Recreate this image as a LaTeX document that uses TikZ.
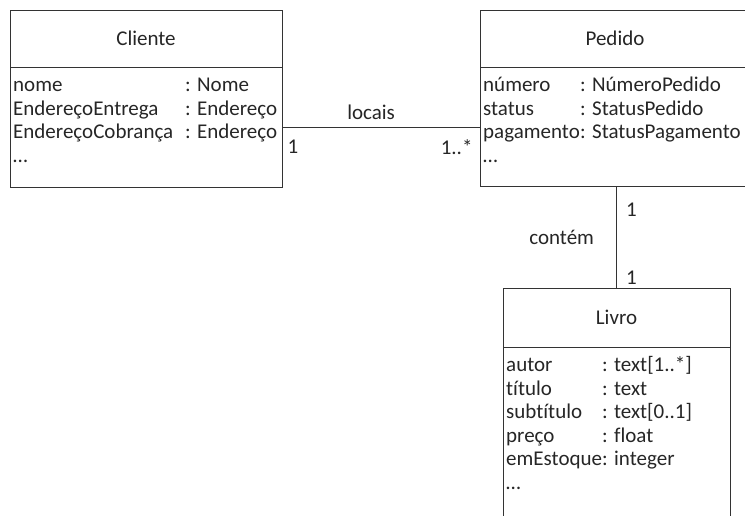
\documentclass[tikz,border=0pt]{standalone}
\usepackage{fontspec}
\setmainfont[Ligatures={NoCommon}]{Carlito}
\usetikzlibrary{positioning}
\begin{document}
\begin{tikzpicture}[x=1pt, y=-1pt,
    classhead/.style={draw=black!80, line width=1pt, outer sep=0pt, inner sep=0pt,
      minimum height=57pt, font=\fontsize{21}{24}\selectfont, text=black!85},
    classbody/.style={draw=black!80, line width=1pt, outer sep=0pt, inner sep=0pt},
    attrs/.style={anchor=north west, inner xsep=3pt, inner ysep=8pt,
      font=\fontsize{21}{23.5}\selectfont, text=black!85},
    assoc/.style={draw=black!80, line width=1pt},
    mult/.style={font=\fontsize{21}{24}\selectfont, text=black!85, inner sep=0pt}]
  \useasboundingbox (0,0) rectangle (745,515);
  \clip (0,0) rectangle (745,515);

  % Cliente
  \node[classhead, minimum width=272pt] (cliente) at (146,38.5) {Cliente};
  \node[classbody, minimum width=272pt, minimum height=120pt, below=0pt of cliente] (clientebody) {};
  \node[attrs] (clienteattrs) at (clientebody.north west) {%
    \begin{tabular}{@{}p{172pt}@{}l@{}}
      nome & : Nome\\
      EndereçoEntrega & : Endereço\\
      EndereçoCobrança & : Endereço\\
      …
    \end{tabular}};

  % Pedido
  \node[classhead, minimum width=270pt] (pedido) at (615,38.5) {Pedido};
  \node[classbody, minimum width=270pt, minimum height=119pt, below=0pt of pedido] (pedidobody) {};
  \node[attrs] (pedidoattrs) at (pedidobody.north west) {%
    \begin{tabular}{@{}p{97pt}@{}l@{}}
      número & : NúmeroPedido\\
      status & : StatusPedido\\
      pagamento & : StatusPagamento\\
      …
    \end{tabular}};

  % Livro
  \node[classhead, minimum width=227pt, minimum height=59pt] (livro) at (616.5,317.5) {Livro};
  \node[classbody, minimum width=227pt, minimum height=200pt, below=0pt of livro] (livrobody) {};
  \node[attrs] (livroattrs) at (livrobody.north west) {%
    \begin{tabular}{@{}p{96pt}@{}l@{}}
      autor & : text[1..*]\\
      título & : text\\
      subtítulo & : text[0..1]\\
      preço & : float\\
      emEstoque & : integer\\
      …
    \end{tabular}};

  % Associations
  \draw[assoc] (clientebody.east) -- node[mult, pos=0.45, anchor=south, yshift=7pt] {locais}
    node[mult, pos=0, anchor=north west, xshift=5pt, yshift=-12pt] {1}
    node[mult, pos=1, anchor=north east, xshift=-7pt, yshift=-12pt] {1..*} (clientebody.east -| pedidobody.west);
  \draw[assoc] (livro.north |- pedidobody.south) -- node[mult, left=22pt] {contém}
    node[mult, pos=0, anchor=north west, xshift=9pt, yshift=-16pt] {1}
    node[mult, pos=1, anchor=south west, xshift=9pt, yshift=3pt] {1} (livro.north);
\end{tikzpicture}
\end{document}
